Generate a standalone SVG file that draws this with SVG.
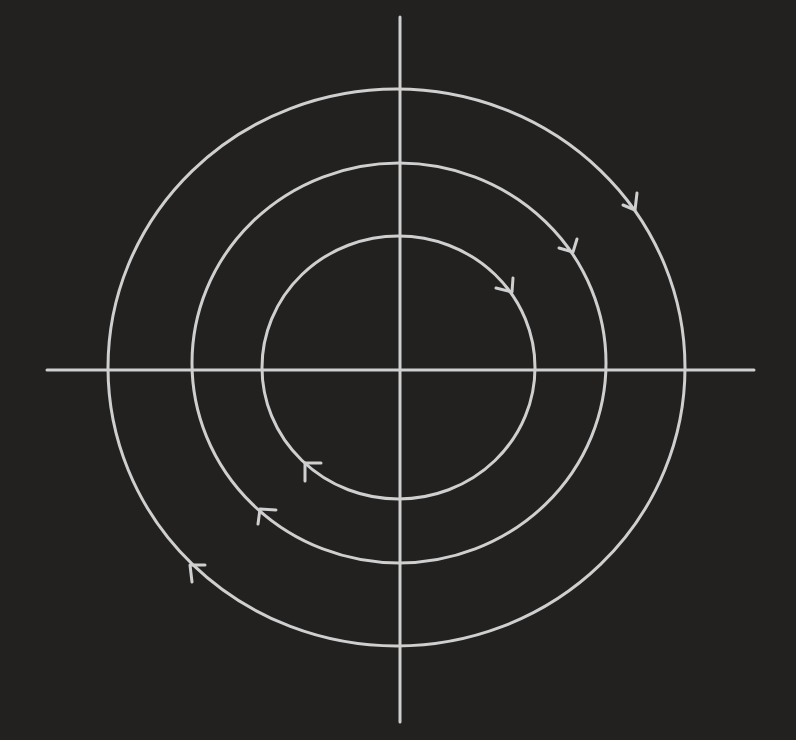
<svg xmlns="http://www.w3.org/2000/svg" width="796" height="740" viewBox="0 0 796 740">
<style>
.s{fill:none;stroke:#cfcfcf;stroke-width:3;stroke-linecap:round;stroke-linejoin:round}
</style>
<rect width="796" height="740" fill="#222120"/>
<g id="axes" class="s">
<line x1="400" y1="17" x2="400" y2="722"/>
<line x1="47" y1="370" x2="754" y2="370"/>
</g>
<g id="orbit-outer" class="s">
<ellipse cx="396.5" cy="367.5" rx="288.5" ry="278.5"/>
<path d="M623,205 L635,210 L637,193"/>
<path d="M205,565 L190,565 L192,582"/>
</g>
<g id="orbit-middle" class="s">
<ellipse cx="399" cy="363" rx="207" ry="200"/>
<path d="M559,248 L573,252 L577,239"/>
<path d="M276,510 L260,509 L258,524"/>
</g>
<g id="orbit-inner" class="s">
<ellipse cx="398.5" cy="367.5" rx="136.5" ry="131.5"/>
<path d="M496,288 L512,292 L513,278"/>
<path d="M321,463 L305,463 L305,481"/>
</g>
</svg>
